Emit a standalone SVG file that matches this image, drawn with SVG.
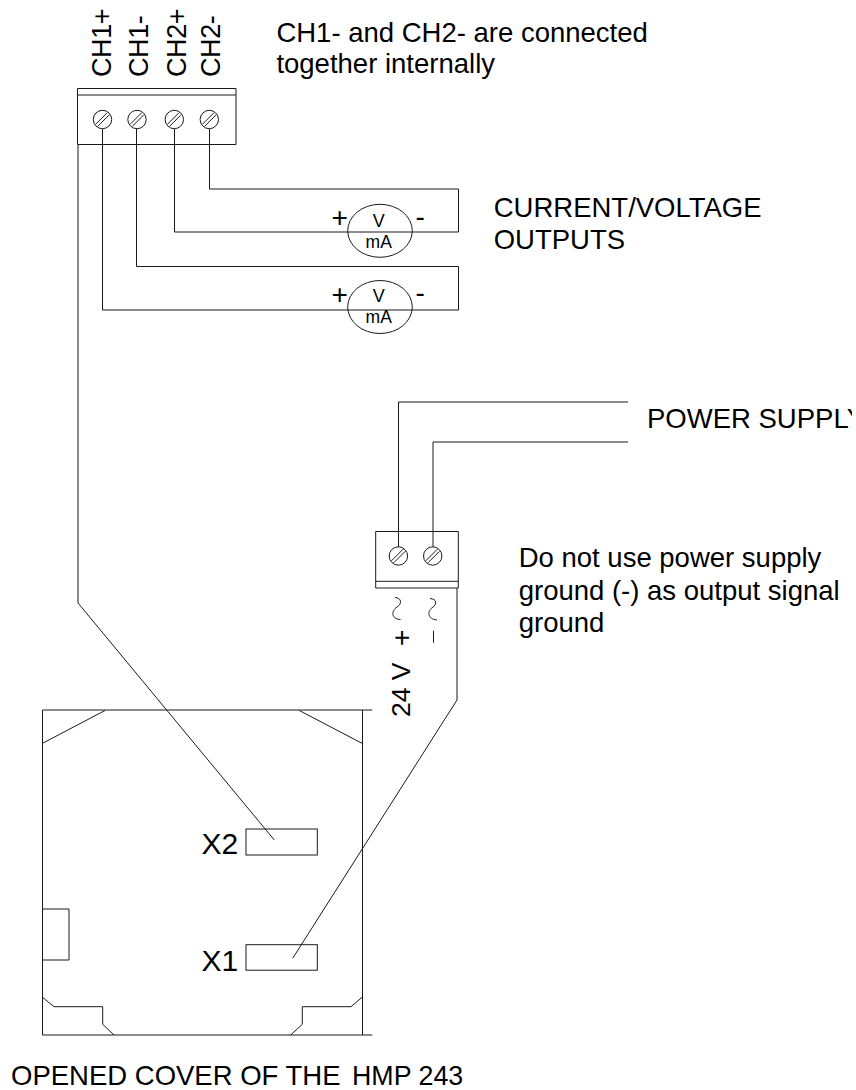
<svg xmlns="http://www.w3.org/2000/svg" width="856" height="1090" viewBox="0 0 856 1090">
<defs>
<style>
.l{fill:none;stroke:#1a1a1a;stroke-width:1}
.t{font-family:"Liberation Sans",Arial,sans-serif;fill:#000}
.b{font-size:27.500px}
.s{fill:#fff;stroke:#1a1a1a;stroke-width:1}
</style>
<g id="screw"><circle class="s" r="9.200"/><path class="l" d="M-6.800 4.700L4.700-6.800M-4.700 6.800L6.800-4.700"/></g>
<clipPath id="page"><rect x="0" y="0" width="852" height="1090"/></clipPath>
</defs>
<rect width="856" height="1090" fill="#fff"/>
<g id="connectors">
<path class="l" d="M78 145V603L274.300 840"/>
<path class="l" d="M102.500 129V310H458.500V266.500H136.500V129"/>
<path class="l" d="M174.500 129V232H458.500V189H209.500V129"/>
<path class="l" d="M398.500 547V402H628"/>
<path class="l" d="M433 547V442H628"/>
<path class="l" d="M457 588V700L292.700 958.300"/>
</g>
<g id="terminal-outputs">
<path class="l" d="M77.500 88.500H236V144.500H77.500ZM77.500 95H236"/>
<use href="#screw" x="102.500" y="119.500"/><use href="#screw" x="137" y="119.500"/><use href="#screw" x="174.300" y="119.500"/><use href="#screw" x="209.300" y="119.500"/>
<g class="t" font-size="27" letter-spacing="-0.4">
<text transform="translate(111 77) rotate(-90)">CH1+</text>
<text transform="translate(148 77) rotate(-90)">CH1-</text>
<text transform="translate(186 77) rotate(-90)">CH2+</text>
<text transform="translate(220 77) rotate(-90)">CH2-</text>
</g>
</g>
<text class="t b" x="276.400" y="42">CH1- and CH2- are connected</text>
<text class="t b" x="276.400" y="73">together internally</text>
<g id="meter-ch2">
<ellipse class="l" cx="380" cy="230.800" rx="32.300" ry="26.500"/>
<text class="t" font-size="18" x="378.700" y="226.700" text-anchor="middle">V</text>
<text class="t" font-size="17.500" x="378.700" y="247.700" text-anchor="middle">mA</text>
<text class="t" font-size="28" x="331.500" y="226.500">+</text>
<text class="t" font-size="28" x="415.500" y="225.500">-</text>
</g>
<g id="meter-ch1">
<ellipse class="l" cx="380" cy="307" rx="32.300" ry="26.500"/>
<text class="t" font-size="18" x="378.700" y="302.300" text-anchor="middle">V</text>
<text class="t" font-size="17.500" x="378.700" y="323.300" text-anchor="middle">mA</text>
<text class="t" font-size="28" x="331.500" y="304">+</text>
<text class="t" font-size="28" x="415.500" y="302">-</text>
</g>
<text class="t b" x="493.700" y="217">CURRENT/VOLTAGE</text>
<text class="t b" x="493.700" y="249">OUTPUTS</text>
<g clip-path="url(#page)"><text class="t b" x="647" y="427.500">POWER SUPPLY</text></g>
<g id="terminal-power">
<path class="l" d="M375.700 531.500H458.300V588H375.700ZM375.700 581.300H458.300"/>
<use href="#screw" x="398.400" y="556"/><use href="#screw" x="432.700" y="556"/>
<path class="l" d="M395 597.500C402 598 402 604 397 607C391 611 391 619 400.500 619.500M430 598.500C437 599 437 604 433 607C427 611 427 619 437 620"/>
<path class="l" d="M433.500 630.700V642.700"/>
<text class="t" font-size="28" transform="translate(411 646) rotate(-90)">+</text>
<text class="t" font-size="26.500" transform="translate(410 717) rotate(-90)">24 V</text>
</g>
<text class="t b" x="518.700" y="567">Do not use power supply</text>
<text class="t b" x="518.700" y="600">ground (-) as output signal</text>
<text class="t b" x="518.700" y="632">ground</text>
<g id="cover">
<path class="l" d="M42.500 1035V710H372.300M362.500 710V1035M42.500 1035H372.300"/>
<path class="l" d="M42.500 743.300L105 710.500M299.300 710.500L362 743.300"/>
<path class="l" d="M42.500 909H69V960H42.500"/>
<path class="l" d="M42.500 997.300L54 1006.700H102.700V1024.300L114 1035M362 997.300L351 1006.700H302.300V1024.300L290.700 1035"/>
<g id="x2"><rect class="l" x="246" y="829" width="71.300" height="26"/><text class="t" font-size="30" x="201.500" y="854">X2</text></g>
<g id="x1"><rect class="l" x="246" y="944.700" width="71.300" height="25.500"/><text class="t" font-size="30" x="201.500" y="970.500">X1</text></g>
</g>
<text class="t b" x="11" y="1085">OPENED COVER OF THE</text>
<text class="t" font-size="26.800" x="352" y="1085">HMP 243</text>
</svg>
